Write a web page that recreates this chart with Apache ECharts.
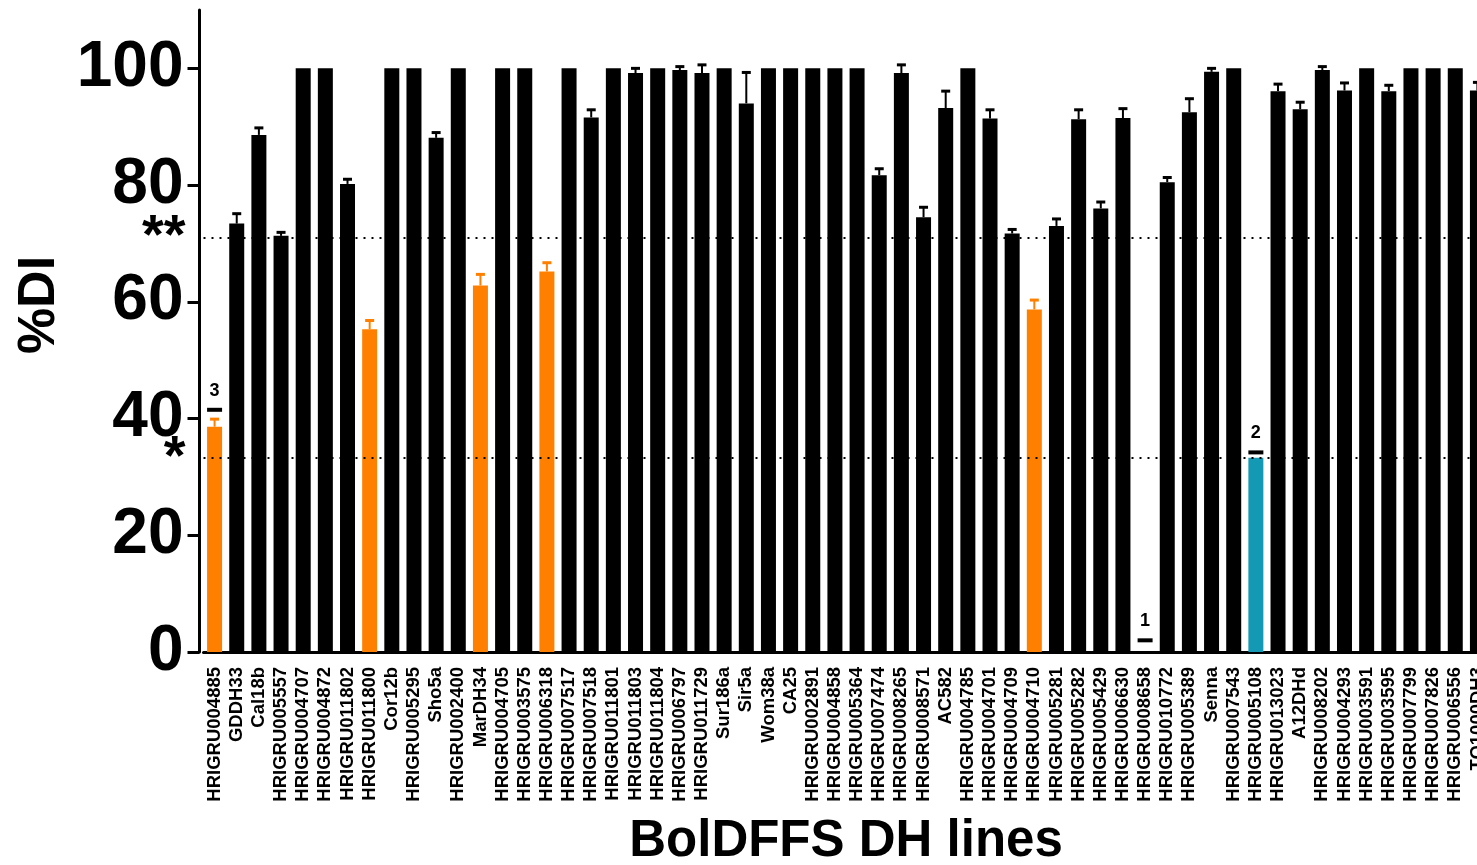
<!DOCTYPE html>
<html>
<head>
<meta charset="utf-8">
<script src="https://cdn.jsdelivr.net/npm/echarts@6/dist/echarts.min.js"></script>
<style>
  html, body { margin: 0; padding: 0; background: #fff; }
  #chart { width: 1477px; height: 865px; }
</style>
</head>
<body>
<div id="chart"></div>
<script>
// DH lines in plot order (last one is cut off at the right edge)
const categories = [
  'HRIGRU004885', 'GDDH33', 'Cal18b', 'HRIGRU005557', 'HRIGRU004707', 'HRIGRU004872',
  'HRIGRU011802', 'HRIGRU011800', 'Cor12b', 'HRIGRU005295', 'Sho5a', 'HRIGRU002400',
  'MarDH34', 'HRIGRU004705', 'HRIGRU003575', 'HRIGRU006318', 'HRIGRU007517', 'HRIGRU007518',
  'HRIGRU011801', 'HRIGRU011803', 'HRIGRU011804', 'HRIGRU006797', 'HRIGRU011729', 'Sur186a',
  'Sir5a', 'Wom38a', 'CA25', 'HRIGRU002891', 'HRIGRU004858', 'HRIGRU005364',
  'HRIGRU007474', 'HRIGRU008265', 'HRIGRU008571', 'AC582', 'HRIGRU004785', 'HRIGRU004701',
  'HRIGRU004709', 'HRIGRU004710', 'HRIGRU005281', 'HRIGRU005282', 'HRIGRU005429', 'HRIGRU006630',
  'HRIGRU008658', 'HRIGRU010772', 'HRIGRU005389', 'Senna', 'HRIGRU007543', 'HRIGRU005108',
  'HRIGRU013023', 'A12DHd', 'HRIGRU008202', 'HRIGRU004293', 'HRIGRU003591', 'HRIGRU003595',
  'HRIGRU007799', 'HRIGRU007826', 'HRIGRU006556', 'TO1000DH3'
];

// mean %DI
const meanDI = [
  38.6, 73.4, 88.6, 71.3, 100, 100,
  80.2, 55.3, 100, 100, 88.1, 100,
  62.8, 100, 100, 65.2, 100, 91.6,
  100, 99.2, 100, 99.7, 99.2, 100,
  94.0, 100, 100, 100, 100, 100,
  81.7, 99.2, 74.5, 93.2, 100, 91.4,
  71.7, 58.7, 73.0, 91.3, 76.0, 91.5,
  0, 80.5, 92.5, 99.4, 100, 33.3,
  96.1, 93.0, 99.7, 96.2, 100, 96.1,
  100, 100, 100, 96.2
];

// upper end of the error bar (null = no visible error bar)
const upperErr = [
  39.9, 75.1, 89.8, 71.9, null, null,
  81.0, 56.8, null, null, 89.0, null,
  64.7, null, null, 66.7, null, 92.9,
  null, 100.0, null, 100.3, 100.6, null,
  99.3, null, null, null, null, null,
  82.8, 100.6, 76.2, 96.1, null, 92.9,
  72.4, 60.3, 74.2, 92.9, 77.1, 93.1,
  null, 81.3, 94.8, 100.0, null, null,
  97.3, 94.2, 100.3, 97.5, null, 97.1,
  null, null, null, 97.6
];

const orangeLines = ['HRIGRU004885', 'HRIGRU011800', 'MarDH34', 'HRIGRU006318', 'HRIGRU004710'];
const checkLine = 'HRIGRU005108';

// numbered markers above some bars
const markLines = ['HRIGRU004885', 'HRIGRU008658', 'HRIGRU005108'];
const markValues = [41.5, 2.0, 34.2];
const markTexts = ['3', '1', '2'];

// significance thresholds
const thresholds = [71.0, 33.2];
const thresholdTexts = ['**', '*'];

const yTicks = [0, 20, 40, 60, 80, 100];

function barColor (name) {
  if (name === checkLine) return '#1499b4';
  if (orangeLines.indexOf(name) >= 0) return '#ff8000';
  return '#000000';
}

const font = "'Liberation Sans', Arial, Helvetica, sans-serif";
const chart = echarts.init(document.getElementById('chart'));

const errData = [];
upperErr.forEach(function (u, i) {
  if (u !== null) errData.push([i, meanDI[i], u]);
});

chart.setOption({
  animation: false,
  grid: { left: 203.5, top: 10, width: 1285, bottom: 213, containLabel: false, outerBoundsMode: 'none' },
  xAxis: {
    type: 'category',
    data: categories,
    name: 'BolDFFS DH lines',
    nameLocation: 'middle',
    nameGap: 164,
    nameTextStyle: { fontFamily: font, fontSize: 51, fontWeight: 'bold', color: '#000' },
    axisLine: { lineStyle: { color: '#000', width: 3 } },
    axisTick: { alignWithLabel: true, length: 10, lineStyle: { color: '#000', width: 3 } },
    axisLabel: {
      interval: 0, rotate: 90, margin: 15,
      fontFamily: font, fontSize: 18.5, fontWeight: 'bold', color: '#000'
    }
  },
  yAxis: {
    type: 'value',
    min: 0,
    max: 110,
    interval: 20,
    offset: 4,
    name: '%DI',
    nameLocation: 'middle',
    nameGap: 131,
    nameTextStyle: { fontFamily: font, fontSize: 52, fontWeight: 'bold', color: '#000', padding: [0, 0, 0, 52] },
    splitLine: { show: false },
    axisLine: { show: true, lineStyle: { color: '#000', width: 3 } },
    axisTick: { show: true, length: 12, customValues: yTicks, lineStyle: { color: '#000', width: 3 } },
    axisLabel: {
      customValues: yTicks, margin: 16,
      fontFamily: font, fontSize: 64, fontWeight: 'bold', color: '#000'
    }
  },
  series: [
    {
      type: 'line',
      data: [],
      z: 1,
      markLine: {
        silent: true,
        symbol: 'none',
        lineStyle: { color: '#000', width: 2, type: [2, 6] },
        label: {
          position: 'start', distance: 18,
          fontFamily: font, fontSize: 56, fontWeight: 'bold', color: '#000',
          formatter: function (p) { return thresholdTexts[p.dataIndex]; }
        },
        data: thresholds.map(function (t) { return { yAxis: t }; })
      }
    },
    {
      type: 'bar',
      z: 2,
      barWidth: 15,
      data: meanDI.map(function (v, i) {
        return { value: v, itemStyle: { color: barColor(categories[i]) } };
      })
    },
    {
      type: 'custom',
      z: 3,
      data: errData,
      encode: { x: 0, y: [1, 2] },
      renderItem: function (params, api) {
        const i = api.value(0);
        const base = api.coord([i, api.value(1)]);
        const top = api.coord([i, api.value(2)]);
        const c = barColor(categories[i]);
        return {
          type: 'group',
          children: [
            { type: 'line', shape: { x1: base[0], y1: base[1], x2: top[0], y2: top[1] }, style: { stroke: c, lineWidth: 2 } },
            { type: 'line', shape: { x1: top[0] - 4.5, y1: top[1], x2: top[0] + 4.5, y2: top[1] }, style: { stroke: c, lineWidth: 3 } }
          ]
        };
      }
    },
    {
      type: 'scatter',
      z: 4,
      symbol: 'rect',
      symbolSize: [15, 4],
      itemStyle: { color: '#000', opacity: 1 },
      label: {
        show: true, position: 'top', distance: 8,
        fontFamily: font, fontSize: 18, fontWeight: 'bold', color: '#000',
        formatter: function (p) { return p.data[2]; }
      },
      data: markLines.map(function (n, k) { return [n, markValues[k], markTexts[k]]; })
    }
  ]
});
</script>
</body>
</html>
